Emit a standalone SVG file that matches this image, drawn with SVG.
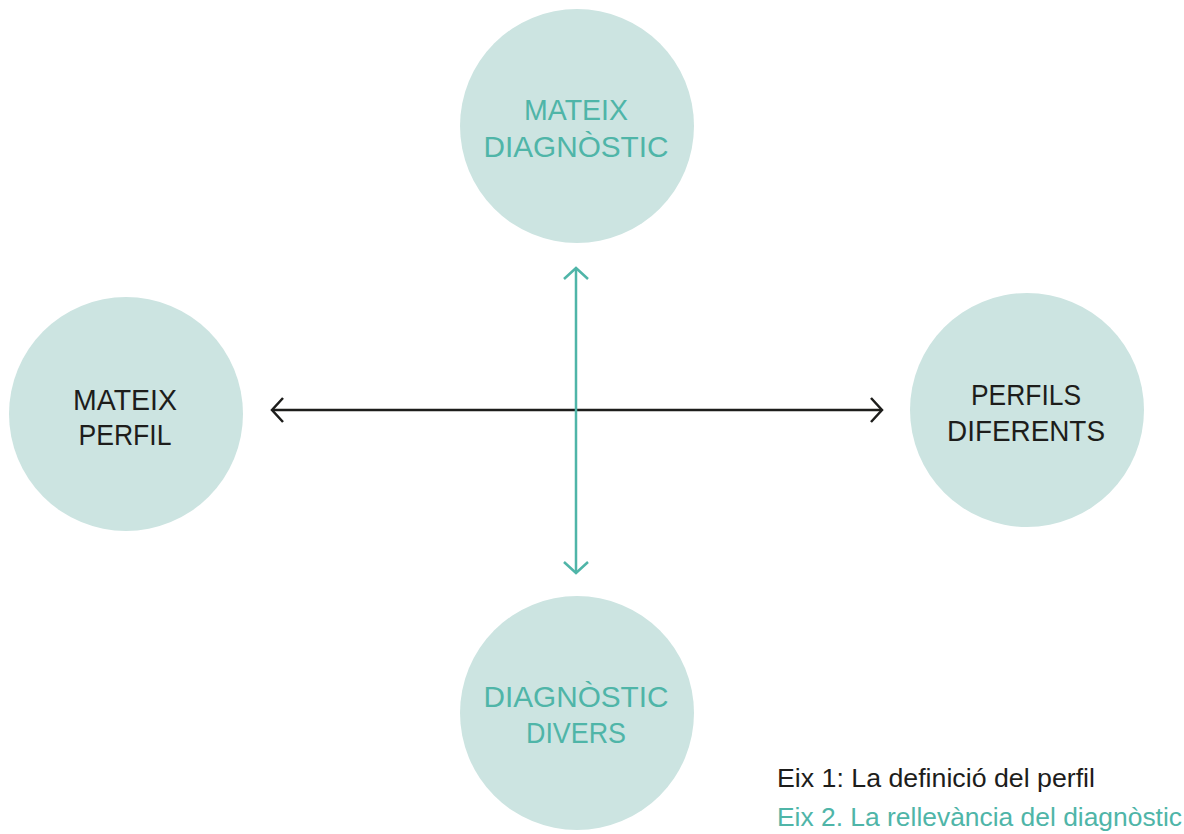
<svg xmlns="http://www.w3.org/2000/svg" width="1184" height="834" viewBox="0 0 1184 834">
<style>
.c{fill:#cce4e1}
.t{font-family:"Liberation Sans",Arial,sans-serif;font-size:30px;text-anchor:middle}
.teal{fill:#4fb5a8}
.dark{fill:#1d1d1b}
.lg{font-family:"Liberation Sans",Arial,sans-serif;font-size:25px}
</style>
<defs>
<marker id="ad" viewBox="-14 -14 20 28" markerWidth="20" markerHeight="28" markerUnits="userSpaceOnUse" refX="0" refY="0" orient="auto-start-reverse">
<path d="M-11,-12 L0,0 L-11,12" fill="none" stroke="#1d1d1b" stroke-width="2.5"/>
</marker>
<marker id="at" viewBox="-14 -14 20 28" markerWidth="20" markerHeight="28" markerUnits="userSpaceOnUse" refX="0" refY="0" orient="auto-start-reverse">
<path d="M-11,-12 L0,0 L-11,12" fill="none" stroke="#4fb5a8" stroke-width="2.5"/>
</marker>
</defs>
<rect width="1184" height="834" fill="#ffffff"/>
<g id="node-top">
<circle class="c" cx="577" cy="126" r="117"/>
<text class="t teal" x="576" y="120" textLength="104" lengthAdjust="spacingAndGlyphs">MATEIX</text>
<text class="t teal" x="576" y="157" textLength="185" lengthAdjust="spacingAndGlyphs">DIAGNÒSTIC</text>
</g>
<g id="node-left">
<circle class="c" cx="126" cy="414" r="117"/>
<text class="t dark" x="125" y="410" textLength="104" lengthAdjust="spacingAndGlyphs">MATEIX</text>
<text class="t dark" x="125" y="445" textLength="93" lengthAdjust="spacingAndGlyphs">PERFIL</text>
</g>
<g id="node-right">
<circle class="c" cx="1027" cy="410" r="117"/>
<text class="t dark" x="1026" y="405" textLength="110" lengthAdjust="spacingAndGlyphs">PERFILS</text>
<text class="t dark" x="1026" y="441" textLength="158" lengthAdjust="spacingAndGlyphs">DIFERENTS</text>
</g>
<g id="node-bottom">
<circle class="c" cx="577" cy="713" r="117"/>
<text class="t teal" x="576" y="707" textLength="185" lengthAdjust="spacingAndGlyphs">DIAGNÒSTIC</text>
<text class="t teal" x="576" y="743" textLength="100" lengthAdjust="spacingAndGlyphs">DIVERS</text>
</g>
<g id="connectors">
<line x1="272" y1="410" x2="882" y2="410" stroke="#1d1d1b" stroke-width="2.5" marker-start="url(#ad)" marker-end="url(#ad)"/>
<line x1="576" y1="268" x2="576" y2="573" stroke="#4fb5a8" stroke-width="2.5" marker-start="url(#at)" marker-end="url(#at)"/>
</g>
<g id="legend">
<text class="lg dark" x="777" y="787" textLength="318" lengthAdjust="spacingAndGlyphs">Eix 1: La definició del perfil</text>
<text class="lg teal" x="777" y="826" textLength="405" lengthAdjust="spacingAndGlyphs">Eix 2. La rellevància del diagnòstic</text>
</g>
</svg>
